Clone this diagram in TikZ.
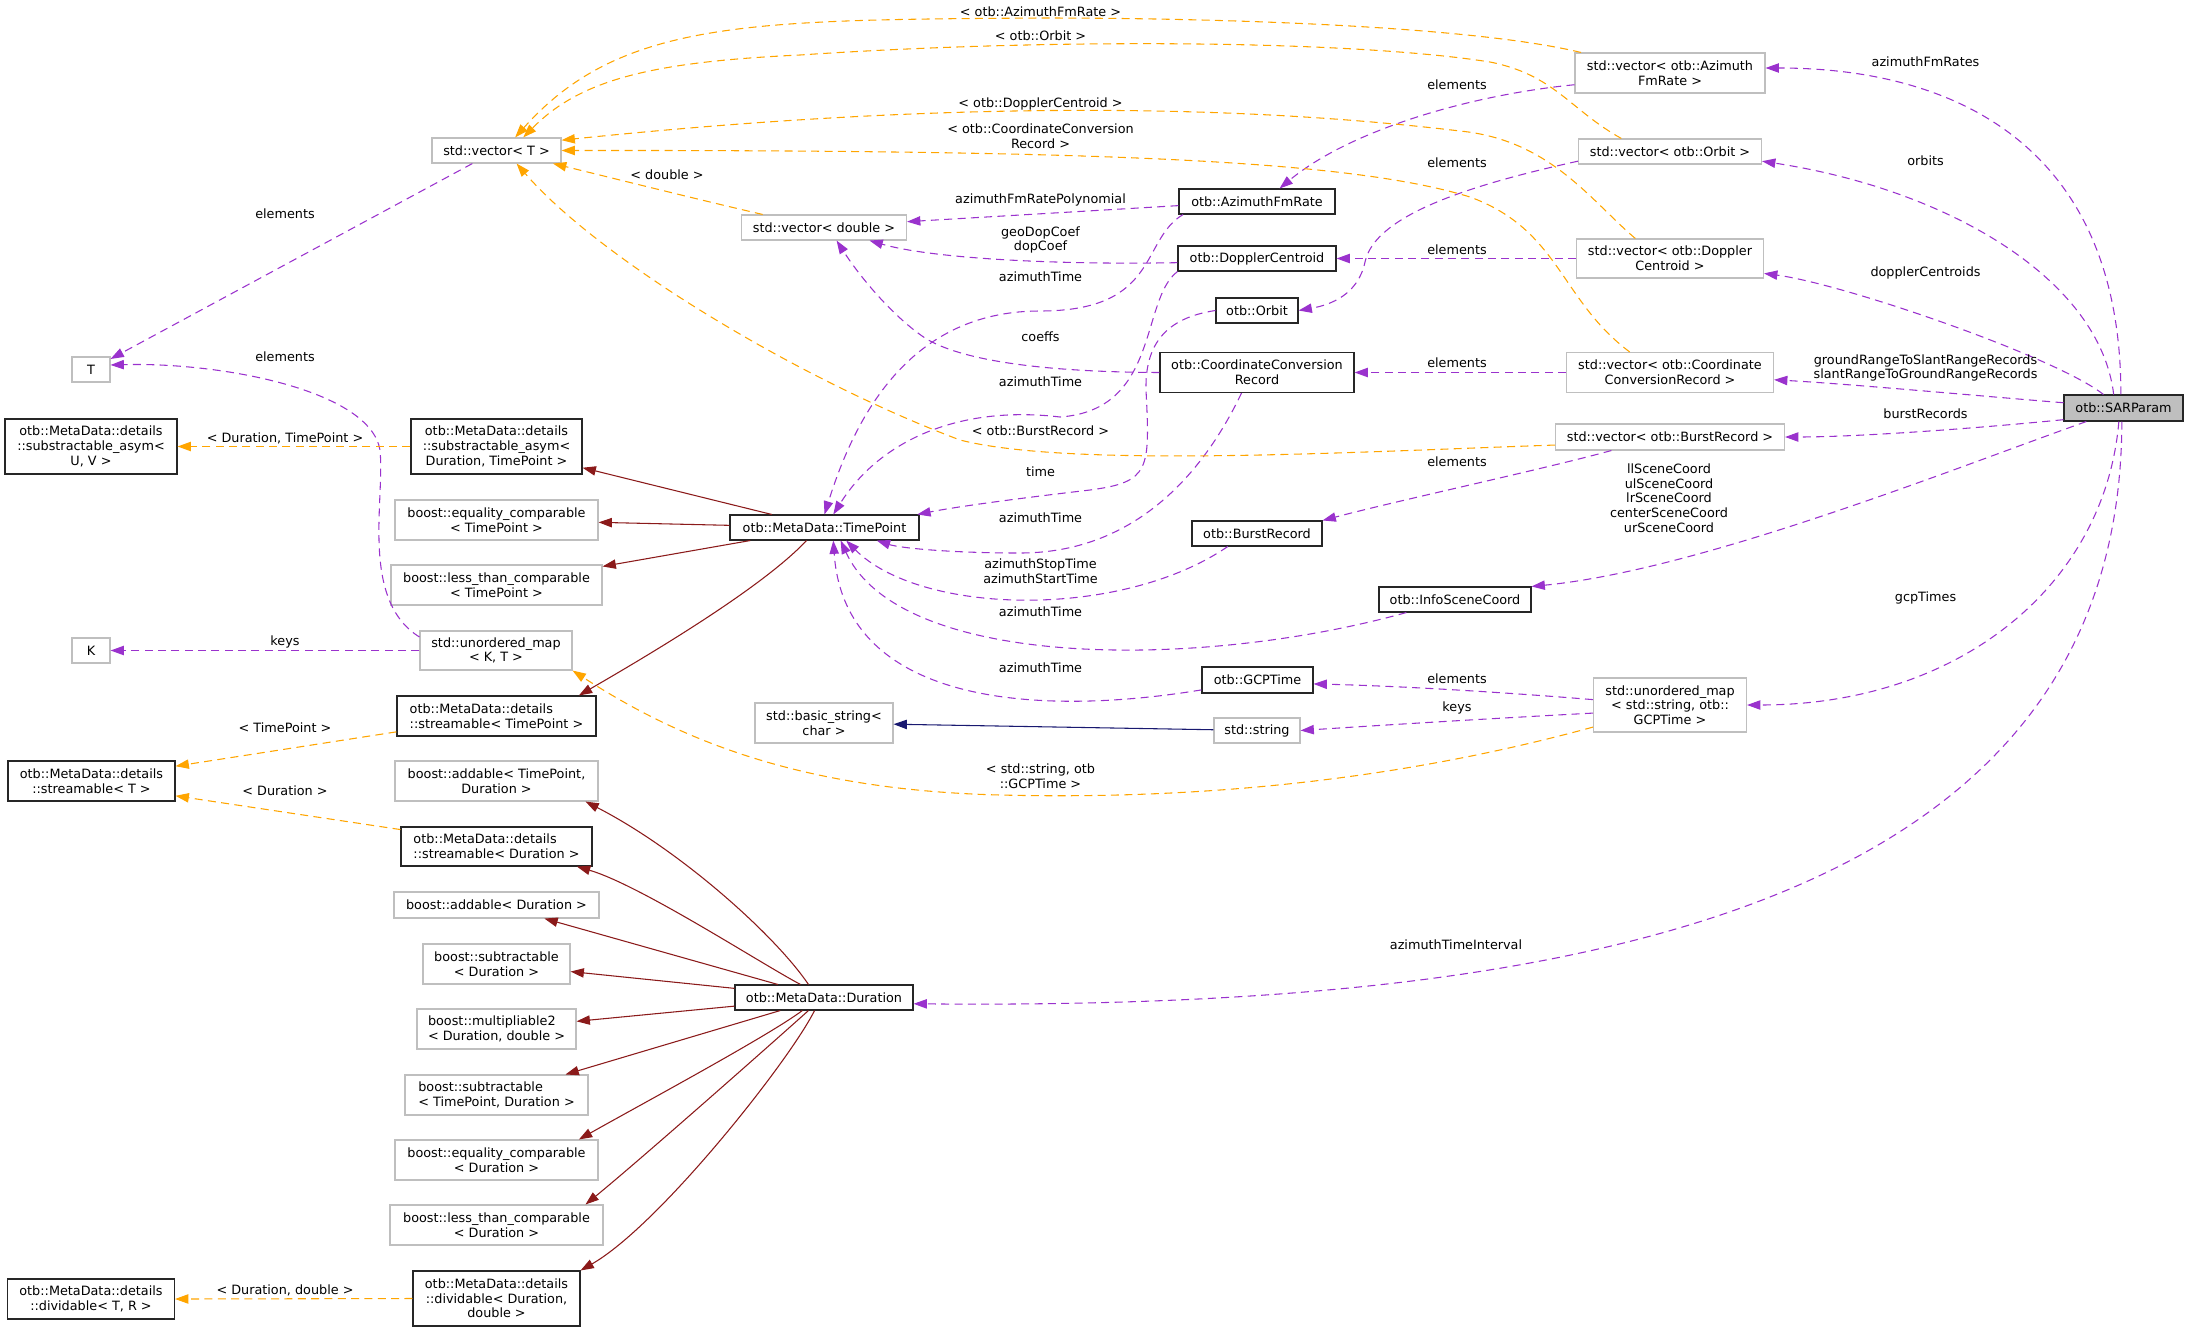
\documentclass[tikz,border=0pt]{standalone}
\usepackage{fontspec}
\setmainfont{DejaVu Sans}
\usetikzlibrary{arrows.meta}
\definecolor{usecol}{HTML}{9A32CD}
\definecolor{tmplcol}{HTML}{FFA500}
\definecolor{inhcol}{HTML}{8B1A1A}
\definecolor{inhbcol}{HTML}{191970}
\definecolor{extcol}{HTML}{BFBFBF}
\newcommand{\dox}{\fontsize{9.6}{11}\selectfont}

\begin{document}
\begin{tikzpicture}[x=0.75pt,y=-0.75pt,font=\dox,
  cls/.style={draw=black!85,fill=white,line width=0.8pt,inner sep=0pt,align=center},
  ext/.style={cls,draw=extcol},
  root/.style={cls,fill=extcol},
  box/.style 2 args={minimum width=#1*0.75pt,minimum height=#2*0.75pt},
  lbl/.style={inner sep=0pt,align=center},
  use/.style={color=usecol,line width=0.8pt,dash pattern=on 6pt off 4pt,-{Triangle[length=10pt,width=7pt]}},
  tmpl/.style={use,color=tmplcol},
  inh/.style={color=inhcol,line width=0.8pt,-{Triangle[length=10pt,width=7pt]}},
  inhb/.style={inh,color=inhbcol}]
\useasboundingbox (0,0) rectangle (2188,1332);
%\draw[help lines] (0,0) grid[step=100] (2188,1332);
\node[root,box={119}{26}] (sar) at (2123.5,408) {otb::SARParam};
\node[ext,box={190}{40}] (vafr) at (1670,73) {std::vector< otb::Azimuth\\FmRate >};
\node[ext,box={183}{25}] (vorb) at (1670,151.5) {std::vector< otb::Orbit >};
\node[ext,box={187}{39}] (vdc) at (1670,258.5) {std::vector< otb::Doppler\\Centroid >};
\node[ext,box={207}{40}] (vccr) at (1670,372.5) {std::vector< otb::Coordinate\\ConversionRecord >};
\node[ext,box={229}{26}] (vbr) at (1670,437) {std::vector< otb::BurstRecord >};
\node[ext,box={153}{54}] (umgcp) at (1670,705) {std::unordered\_map\\< std::string, otb::\\GCPTime >};
\node[cls,box={156}{25}] (afr) at (1257,201.5) {otb::AzimuthFmRate};
\node[cls,box={158}{25}] (dc) at (1257,258.5) {otb::DopplerCentroid};
\node[cls,box={82}{25}] (orb) at (1257,310.5) {otb::Orbit};
\node[cls,box={194}{40}] (ccr) at (1257,372.5) {otb::CoordinateConversion\\Record};
\node[cls,box={130}{25}] (br) at (1257,533.5) {otb::BurstRecord};
\node[cls,box={152}{25}] (isc) at (1455,599.5) {otb::InfoSceneCoord};
\node[cls,box={111}{26}] (gcp) at (1257.5,680) {otb::GCPTime};
\node[ext,box={86}{25}] (str) at (1257,730.5) {std::string};
\node[ext,box={138}{40}] (bstr) at (824,723) {std::basic\_string<\\char >};
\node[ext,box={165}{25}] (vd) at (824,227.5) {std::vector< double >};
\node[cls,box={189}{25}] (tp) at (824.5,527.5) {otb::MetaData::TimePoint};
\node[cls,box={178}{25}] (dur) at (824,997.5) {otb::MetaData::Duration};
\node[ext,box={129}{25}] (vt) at (496.5,150.5) {std::vector< T >};
\node[cls,box={171}{55}] (sad) at (496.5,446.5) {otb::MetaData::details\\::substractable\_asym<\\Duration, TimePoint >};
\node[ext,box={203}{40}] (eqtp) at (496.5,520) {boost::equality\_comparable\\< TimePoint >};
\node[ext,box={211}{40}] (lttp) at (496.5,585) {boost::less\_than\_comparable\\< TimePoint >};
\node[ext,box={152}{39}] (umkt) at (496,650.5) {std::unordered\_map\\< K, T >};
\node[cls,box={199}{40},align=left] (stp) at (496.5,716) {otb::MetaData::details\\::streamable< TimePoint >};
\node[ext,box={203}{40}] (addtd) at (496.5,781) {boost::addable< TimePoint,\\Duration >};
\node[cls,box={191}{39},align=left] (sdur) at (496.5,846.5) {otb::MetaData::details\\::streamable< Duration >};
\node[ext,box={205}{26}] (addd) at (496.5,905) {boost::addable< Duration >};
\node[ext,box={147}{40}] (subd) at (496.5,964) {boost::subtractable\\< Duration >};
\node[ext,box={159}{40},align=left] (mul) at (496.5,1029) {boost::multipliable2\\< Duration, double >};
\node[ext,box={183}{40},align=left] (subtd) at (496.5,1095) {boost::subtractable\\< TimePoint, Duration >};
\node[ext,box={203}{40}] (eqd) at (496.5,1160) {boost::equality\_comparable\\< Duration >};
\node[ext,box={213}{40}] (ltd) at (496.5,1225) {boost::less\_than\_comparable\\< Duration >};
\node[cls,box={167}{55}] (divd) at (496.5,1298.5) {otb::MetaData::details\\::dividable< Duration,\\double >};
\node[ext,box={38}{25}] (T) at (91,369.5) {T};
\node[ext,box={38}{25}] (K) at (91,650.5) {K};
\node[cls,box={172}{55}] (sauv) at (91,446.5) {otb::MetaData::details\\::substractable\_asym<\\U, V >};
\node[cls,box={167}{40}] (st) at (91.5,781) {otb::MetaData::details\\::streamable< T >};
\node[cls,box={167}{40}] (divtr) at (91,1299) {otb::MetaData::details\\::dividable< T, R >};

\draw[use] (sar.101) .. controls (2121,150) and (1960,68) .. (vafr.3);
\draw[use] (sar.126) .. controls (2100,280) and (1950,190) .. (vorb.-6);
\draw[use] (sar.146) .. controls (2056,357) and (1844,284) .. (vdc.-9);
\draw[use] (sar.175) .. controls (1980,396) and (1850,384) .. (vccr.-4);
\draw[use] (sar.191) .. controls (1980,428) and (1860,437) .. (vbr.east);
\draw[use] (sar.200) .. controls (1950,470) and (1700,570) .. (isc.north east);
\draw[use] (sar.251) .. controls (2105,585) and (1960,705) .. (umgcp.east);
\draw[use] (sar.263) .. controls (2121,900) and (1600,1010) .. (dur.-4);

\draw[use] (vafr.187) .. controls (1470,95) and (1350,130) .. (afr.30);
\draw[use] (vorb.186) .. controls (1470,185) and (1375,215) .. (1365,262) .. controls (1358,295) and (1330,305) .. (orb.east);
\draw[use] (vdc.west) -- (dc.east);
\draw[use] (vccr.west) -- (ccr.east);
\draw[use] (vbr.193.5) .. controls (1540,470) and (1400,500) .. (br.north east);
\draw[use] (umgcp.176) .. controls (1500,692) and (1400,686) .. (gcp.-4);
\draw[use] (umgcp.186) .. controls (1500,718) and (1400,724) .. (str.east);

\draw[use] (afr.183) -- (vd.4);
\draw[use] (dc.183) .. controls (1050,265) and (930,258) .. (vd.-16);
\draw[use] (ccr.west) .. controls (1040,372) and (960,360) .. (925,338) .. controls (895,318) and (862,280) .. (vd.-46);
\draw[use] (afr.190) .. controls (1140,240) and (1160,311) .. (1040,311) .. controls (920,311) and (860,400) .. (tp.north);
\draw[use] (dc.south west) .. controls (1140,300) and (1160,410) .. (1060,417) .. controls (960,405) and (880,440) .. (tp.56);
\draw[use] (orb.west) .. controls (1165,318) and (1145,345) .. (1146,390) .. controls (1150,470) and (1150,482) .. (1090,490) .. controls (1030,497) and (960,506) .. (tp.8.5);
\draw[use] (ccr.233) .. controls (1200,480) and (1130,553) .. (1020,553) .. controls (950,553) and (900,548) .. (tp.-14.5);
\draw[use] (br.204) .. controls (1120,620) and (920,615) .. (tp.-31);
\draw[use] (isc.195) .. controls (1200,670) and (900,670) .. (tp.-39);
\draw[use] (gcp.190) .. controls (1050,715) and (845,710) .. (tp.-56);
\draw[use] (vt) -- (T);
\draw[use] (umkt.170) .. controls (360,600) and (385,500) .. (380,450) .. controls (370,390) and (220,362) .. (T.13);
\draw[use] (umkt.west) -- (K.east);

\draw[tmpl] (vafr.167) .. controls (1480,28) and (1250,18) .. (1040,18) .. controls (750,20) and (620,20) .. (vt.35);
\draw[tmpl] (vorb.165) .. controls (1570,110) and (1555,75) .. (1490,62) .. controls (1350,40) and (1050,38) .. (800,55) .. controls (650,62) and (580,80) .. (vt.26);
\draw[tmpl] (vdc.150) .. controls (1590,200) and (1550,140) .. (1460,131) .. controls (1200,100) and (900,105) .. (vt.9);
\draw[tmpl] (vccr.153) .. controls (1560,300) and (1560,230) .. (1470,197) .. controls (1350,160) and (1100,150) .. (vt.east);
\draw[tmpl] (vd.168) .. controls (700,200) and (600,175) .. (vt.-13);
\draw[tmpl] (vbr.184.5) .. controls (1350,452) and (1070,468) .. (960,440) .. controls (800,380) and (600,260) .. (vt.-33);
\draw[tmpl] (umgcp.196) .. controls (1400,780) and (1200,800) .. (1000,795) .. controls (800,790) and (680,740) .. (umkt.south east);
\draw[tmpl] (sad.west) -- (sauv.east);
\draw[tmpl] (stp.189) -- (st.10);
\draw[tmpl] (sdur.170) -- (st.-10);
\draw[tmpl] (divd.west) -- (divtr.east);

\foreach \b in {sad,eqtp,lttp}
\draw[inh] (tp) -- (\b);
\draw[inh] (tp.216) .. controls (760,590) and (640,660) .. (stp.14);
\foreach \b in {addd,subd,mul,subtd}
\draw[inh] (dur) -- (\b);
\draw[inh] (dur.140) .. controls (775,935) and (680,850) .. (addtd.-13.5);
\draw[inh] (dur.151) .. controls (760,963) and (640,885) .. (sdur.-14);
\draw[inh] (dur.211) .. controls (770,1035) and (640,1105) .. (eqd.14);
\draw[inh] (dur.220) .. controls (770,1045) and (640,1160) .. (ltd.13.5);
\draw[inh] (dur.234) .. controls (790,1060) and (660,1225) .. (divd.north east);
\draw[inhb] (str) -- (bstr);

\node[lbl] (l-afrs) at (1925.5,62) {azimuthFmRates};
\node[lbl] (l-orbs) at (1925.5,161) {orbits};
\node[lbl] (l-dcs) at (1925.5,273) {dopplerCentroids};
\node[lbl] (l-ccrs) at (1925.5,368) {groundRangeToSlantRangeRecords\\slantRangeToGroundRangeRecords};
\node[lbl] (l-brs) at (1925.5,414) {burstRecords};
\node[lbl] (l-isc) at (1669,498) {llSceneCoord\\ulSceneCoord\\lrSceneCoord\\centerSceneCoord\\urSceneCoord};
\node[lbl] (l-gcps) at (1925.5,598) {gcpTimes};
\node[lbl] (l-ati) at (1456,945) {azimuthTimeInterval};
\node[lbl] (l-el1) at (1457,85) {elements};
\node[lbl] (l-el2) at (1457,163) {elements};
\node[lbl] (l-el3) at (1457,250) {elements};
\node[lbl] (l-el4) at (1457,363) {elements};
\node[lbl] (l-el5) at (1457,462) {elements};
\node[lbl] (l-el6) at (1457,679) {elements};
\node[lbl] (l-keys) at (1457,708) {keys};
\node[lbl] (l-poly) at (1040.5,200) {azimuthFmRatePolynomial};
\node[lbl] (l-coef) at (1040.5,240) {geoDopCoef\\dopCoef};
\node[lbl] (l-at1) at (1040.5,277) {azimuthTime};
\node[lbl] (l-cf) at (1040.5,337) {coeffs};
\node[lbl] (l-at2) at (1040.5,382) {azimuthTime};
\node[lbl] (l-time) at (1040.5,472) {time};
\node[lbl] (l-at3) at (1040.5,518) {azimuthTime};
\node[lbl] (l-ss) at (1040.5,571) {azimuthStopTime\\azimuthStartTime};
\node[lbl] (l-at4) at (1040.5,612) {azimuthTime};
\node[lbl] (l-at5) at (1040.5,668) {azimuthTime};
\node[lbl] (l-elt1) at (285,214) {elements};
\node[lbl] (l-elt2) at (285,357) {elements};
\node[lbl] (l-keyk) at (285,642) {keys};
\node[lbl] (l-tafr) at (1040.5,12) {< otb::AzimuthFmRate >};
\node[lbl] (l-torb) at (1040.5,36) {< otb::Orbit >};
\node[lbl] (l-tdc) at (1040.5,104) {< otb::DopplerCentroid >};
\node[lbl] (l-tccr) at (1040.5,136) {< otb::CoordinateConversion\\Record >};
\node[lbl] (l-tdbl) at (667,175) {< double >};
\node[lbl] (l-tbr) at (1040.5,431) {< otb::BurstRecord >};
\node[lbl] (l-tdtp) at (285,438) {< Duration, TimePoint >};
\node[lbl] (l-ttp) at (285,728) {< TimePoint >};
\node[lbl] (l-tdur) at (285,791) {< Duration >};
\node[lbl] (l-tdd) at (285,1290) {< Duration, double >};
\node[lbl] (l-tgcp) at (1040.5,776) {< std::string, otb\\::GCPTime >};
\end{tikzpicture}
\end{document}
